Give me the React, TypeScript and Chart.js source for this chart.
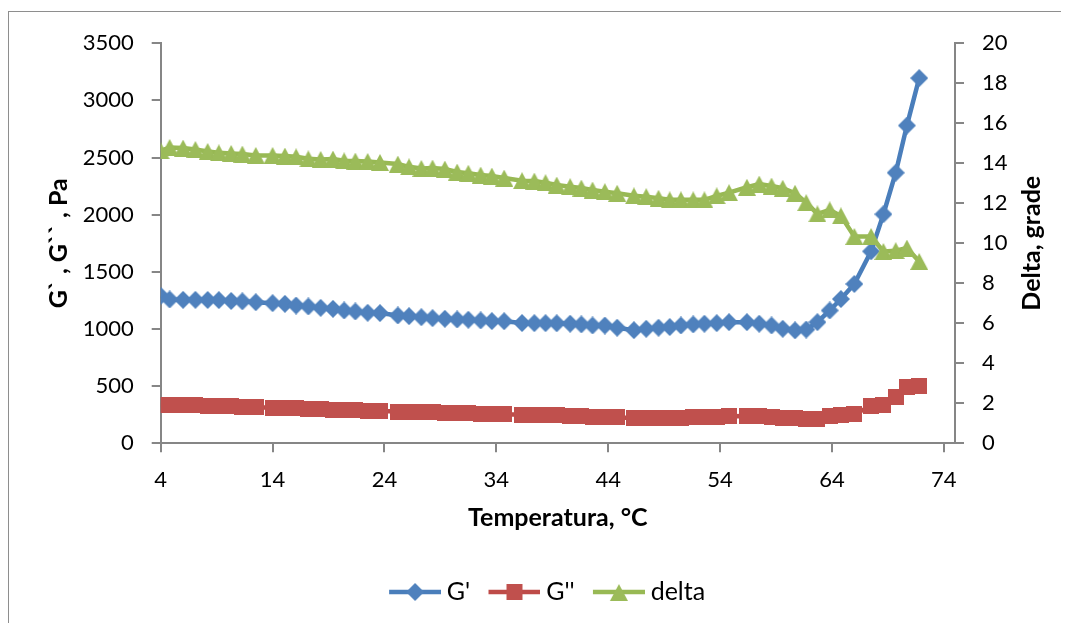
import React, { useEffect, useRef } from "react";
import { Chart, registerables } from "chart.js";

Chart.register(...registerables);

if (typeof document !== "undefined") {
  document.documentElement.style.overflow = "hidden";
  document.body.style.overflow = "hidden";
}

const temperatures = [
  4.0, 4.8, 6.0, 7.1, 8.2, 9.2, 10.3, 11.3, 12.5, 14.0,
  15.1, 16.1, 17.2, 18.3, 19.4, 20.4, 21.4, 22.5, 23.6, 25.2,
  26.2, 27.3, 28.3, 29.4, 30.5, 31.5, 32.6, 33.6, 34.7, 36.3,
  37.4, 38.4, 39.4, 40.6, 41.6, 42.6, 43.7, 44.8, 46.3, 47.4,
  48.5, 49.5, 50.5, 51.6, 52.6, 53.7, 54.8, 56.4, 57.5, 58.6,
  59.6, 60.7, 61.7, 62.7, 63.8, 64.8, 66.0, 67.5, 68.6, 69.7,
  70.7, 71.8,
];

const gPrime = [
  1290, 1258, 1255, 1255, 1254, 1253, 1245, 1242, 1234, 1226,
  1220, 1205, 1197, 1185, 1176, 1162, 1153, 1142, 1139, 1118,
  1112, 1103, 1095, 1089, 1083, 1081, 1075, 1069, 1068, 1052,
  1051, 1051, 1050, 1046, 1040, 1031, 1030, 1011, 990, 1002,
  1011, 1017, 1031, 1040, 1046, 1051, 1060, 1060, 1046, 1031,
  1002, 988, 995, 1060, 1162, 1262, 1394, 1679, 2004, 2367,
  2780, 3195,
];

const gDoublePrime = [
  335, 335, 333, 331, 328, 325, 322, 319, 315, 311,
  308, 305, 301, 297, 294, 291, 288, 285, 282, 278,
  275, 272, 270, 267, 264, 262, 259, 257, 255, 250,
  248, 247, 244, 240, 237, 234, 230, 226, 222, 220,
  220, 221, 223, 226, 229, 232, 236, 238, 235, 230,
  224, 218, 213, 215, 241, 250, 258, 322, 336, 404,
  490, 505,
];

const deltaValues = [
  14.62, 14.79, 14.76, 14.69, 14.59, 14.52, 14.49, 14.46, 14.39, 14.39,
  14.36, 14.32, 14.22, 14.19, 14.21, 14.12, 14.11, 14.09, 14.04, 13.96,
  13.82, 13.74, 13.76, 13.71, 13.56, 13.5, 13.41, 13.36, 13.26, 13.13,
  13.11, 13.03, 12.91, 12.83, 12.76, 12.66, 12.58, 12.5, 12.37, 12.33,
  12.25, 12.17, 12.17, 12.17, 12.17, 12.37, 12.53, 12.8, 12.96, 12.86,
  12.75, 12.5, 12.03, 11.47, 11.67, 11.37, 10.34, 10.34, 9.59, 9.63,
  9.76, 9.09,
];

const xTickValues = [4, 14, 24, 34, 44, 54, 64, 74];
const seriesLabels = ["G'", "G''", "delta"];
const xTitle = "Temperatura, °C";
const yLeftTitle = "G` , G`` , Pa";
const yRightTitle = "Delta, grade";

const FONT = "Lato, 'Open Sans', sans-serif";
const AXIS_COLOR = "#868686";
const BLUE = "#4A7EBB";
const RED = "#BE4B48";
const GREEN = "#98B954";
const LEGEND_BOX = 61.5;

function makeMarker(shape: string, color: string, w: number, h: number) {
  const c = document.createElement("canvas");
  c.width = w;
  c.height = h;
  const ctx = c.getContext("2d")!;
  ctx.fillStyle = color;
  ctx.beginPath();
  if (shape === "diamond") {
    ctx.moveTo(w / 2, 0);
    ctx.lineTo(w, h / 2);
    ctx.lineTo(w / 2, h);
    ctx.lineTo(0, h / 2);
  } else if (shape === "square") {
    ctx.rect(0, 0, w, h);
  } else {
    ctx.moveTo(w / 2, 0);
    ctx.lineTo(w, h);
    ctx.lineTo(0, h);
  }
  ctx.closePath();
  ctx.fill();
  return c;
}

// legend symbol: a line segment with the marker in its middle, placed at the
// right-hand part of a wider transparent canvas so that it sits close to its text
function makeLegendIcon(marker: HTMLCanvasElement, lineColor: string) {
  const w = 75;
  const h = 20;
  const lineLen = 52;
  const x0 = w - lineLen;
  const c = document.createElement("canvas");
  c.width = w;
  c.height = h;
  const ctx = c.getContext("2d")!;
  ctx.strokeStyle = lineColor;
  ctx.lineWidth = 4.5;
  ctx.beginPath();
  ctx.moveTo(x0, h / 2);
  ctx.lineTo(w, h / 2);
  ctx.stroke();
  ctx.drawImage(
    marker,
    Math.round(x0 + (lineLen - marker.width) / 2),
    Math.round((h - marker.height) / 2)
  );
  return c;
}

const rightTitlePlugin = {
  id: "rightTitle",
  afterDraw(chart: any) {
    const s = chart.scales.y1;
    const ctx = chart.ctx;
    ctx.save();
    ctx.translate(s.left + 77, (chart.chartArea.top + chart.chartArea.bottom) / 2);
    ctx.rotate(-Math.PI / 2);
    ctx.font = `bold 25px ${FONT}`;
    ctx.fillStyle = "#000";
    ctx.textAlign = "center";
    ctx.textBaseline = "middle";
    ctx.fillText(yRightTitle, 0, 0);
    ctx.restore();
  },
};

export default function App() {
  const ref = useRef<HTMLCanvasElement>(null);

  useEffect(() => {
    if (!ref.current) return;
    const diamond = makeMarker("diamond", "#4F81BD", 18, 18);
    const square = makeMarker("square", "#C0504D", 16, 16);
    const triangle = makeMarker("triangle", "#9BBB59", 18, 17);
    const markers = [diamond, square, triangle];
    const lineColors = [BLUE, RED, GREEN];
    const legendIcons = markers.map((m, i) => makeLegendIcon(m, lineColors[i]));
    const seriesValues = [gPrime, gDoublePrime, deltaValues];
    const axes = ["y", "y", "y1"];
    const orders = [3, 2, 1];

    const datasets = seriesValues.map((vals, i) => ({
      label: seriesLabels[i],
      data: temperatures.map((t, k) => ({ x: t, y: vals[k] })),
      yAxisID: axes[i],
      order: orders[i],
      showLine: true,
      borderColor: lineColors[i],
      backgroundColor: lineColors[i],
      borderWidth: 4.5,
      tension: 0,
      pointStyle: markers[i],
      pointRadius: 8,
      pointHoverRadius: 8,
    }));

    const tickFont = { family: FONT, size: 22 };
    const titleFont = { family: FONT, size: 25, weight: "bold" as const };
    const plain = (v: any) => String(v);
    const gridCommon = {
      display: true,
      drawOnChartArea: false,
      drawTicks: true,
      tickLength: 9,
      color: AXIS_COLOR,
      lineWidth: 2,
    };
    const borderCommon = { display: true, color: AXIS_COLOR, width: 2 };

    const chart = new Chart(ref.current, {
      type: "scatter",
      data: { datasets: datasets as any },
      plugins: [rightTitlePlugin],
      options: {
        animation: false,
        responsive: false,
        devicePixelRatio: 1,
        layout: { padding: { top: 29.7, left: 0, right: 0, bottom: 11.5 } },
        plugins: {
          tooltip: { enabled: false },
          legend: {
            display: true,
            position: "bottom",
            labels: {
              usePointStyle: true,
              pointStyleWidth: LEGEND_BOX,
              padding: 2,
              color: "#000",
              font: { family: FONT, size: 25 },
              generateLabels: (c: any) =>
                c.data.datasets.map((ds: any, i: number) => ({
                  text: ds.label,
                  fillStyle: lineColors[i],
                  strokeStyle: lineColors[i],
                  lineWidth: 0,
                  hidden: false,
                  datasetIndex: i,
                  pointStyle: legendIcons[i],
                  fontColor: "#000",
                })),
            },
          },
        },
        scales: {
          x: {
            type: "linear",
            min: 4,
            max: 75,
            afterBuildTicks: (s: any) => {
              s.ticks = xTickValues.map((v) => ({ value: v }));
            },
            afterFit: (s: any) => {
              s.height = 134.2;
            },
            ticks: { font: tickFont, color: "#000", padding: 14, autoSkip: false, maxRotation: 0, callback: plain },
            grid: gridCommon,
            border: borderCommon,
            title: {
              display: true,
              text: xTitle,
              color: "#000",
              font: titleFont,
              padding: { top: 0, bottom: 44.5 },
            },
          },
          y: {
            type: "linear",
            position: "left",
            min: 0,
            max: 3500,
            afterFit: (s: any) => {
              s.width = 151.7;
            },
            ticks: { stepSize: 500, font: tickFont, color: "#000", padding: 18, callback: plain },
            grid: gridCommon,
            border: borderCommon,
            title: {
              display: true,
              text: yLeftTitle,
              color: "#000",
              font: titleFont,
              padding: { top: 34.5, bottom: 0 },
            },
          },
          y1: {
            type: "linear",
            position: "right",
            min: 0,
            max: 20,
            afterFit: (s: any) => {
              s.width = 114;
            },
            ticks: { stepSize: 2, font: tickFont, color: "#000", padding: 18, callback: plain },
            grid: gridCommon,
            border: borderCommon,
            title: { display: false },
          },
        },
      },
    } as any);

    return () => chart.destroy();
  }, []);

  return (
    <div
      style={{
        position: "relative",
        top: 3,
        width: 1061,
        height: 615,
        boxSizing: "border-box",
        borderLeft: "1px solid #8E8E8E",
        borderTop: "1px solid #8E8E8E",
        background: "#fff",
      }}
    >
      <canvas ref={ref} width={1060} height={614} style={{ display: "block", width: 1060, height: 614 }} />
    </div>
  );
}
